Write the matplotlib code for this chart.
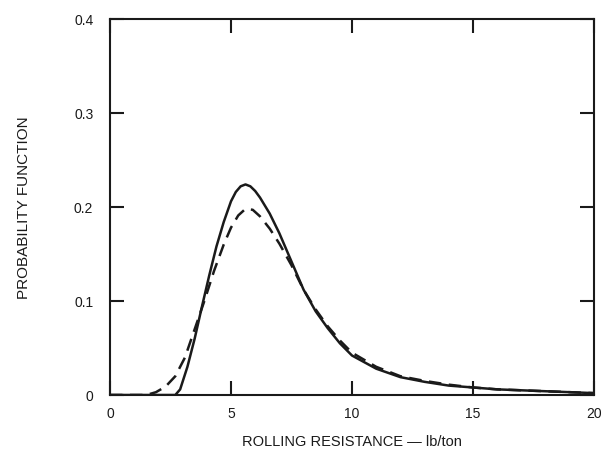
import matplotlib
matplotlib.use("Agg")
import matplotlib.pyplot as plt

plt.rcParams['font.family'] = ['Liberation Sans', 'DejaVu Sans']

# solid curve
x_solid = [0, 2.7, 2.9, 3.2, 3.5, 3.8, 4.1, 4.4, 4.7, 5.0, 5.2, 5.4, 5.6,
           5.8, 6.0, 6.2, 6.6, 7.0, 7.5, 8.0, 8.5, 9.0, 9.5, 10, 11, 12, 13,
           14, 15, 16, 17, 18, 19, 20]
y_solid = [0, 0, 0.006, 0.03, 0.06, 0.094, 0.127, 0.158, 0.184, 0.206, 0.216,
           0.222, 0.224, 0.222, 0.217, 0.210, 0.193, 0.172, 0.142, 0.112,
           0.089, 0.071, 0.055, 0.042, 0.028, 0.019, 0.014, 0.010, 0.008,
           0.006, 0.005, 0.004, 0.003, 0.002]

# dashed curve
x_dash = [0, 1.5, 1.9, 2.3, 2.7, 3.1, 3.5, 3.9, 4.3, 4.7, 5.0, 5.3, 5.6, 5.9,
          6.2, 6.6, 7.0, 7.5, 8.0, 8.5, 9.0, 9.5, 10, 11, 12, 13, 14, 15, 16,
          17, 18, 19, 20]
y_dash = [0, 0, 0.003, 0.009, 0.02, 0.040, 0.070, 0.100, 0.132, 0.160, 0.178,
          0.191, 0.198, 0.197, 0.190, 0.177, 0.161, 0.138, 0.112, 0.091, 0.073,
          0.058, 0.045, 0.030, 0.020, 0.015, 0.011, 0.008, 0.006, 0.005,
          0.004, 0.003, 0.002]

x_ticks = [0, 5, 10, 15, 20]
y_ticks = [0, 0.1, 0.2, 0.3, 0.4]
y_ticklabels = ['0', '0.1', '0.2', '0.3', '0.4']

ink = '#1a1a1a'

fig = plt.figure(figsize=(6.13, 4.52), dpi=100)
ax = fig.add_axes([0.1794, 0.1239, 0.7896, 0.8319])

ax.plot(x_solid, y_solid, color=ink, lw=1.8, solid_joinstyle='round')
ax.plot(x_dash, y_dash, color=ink, lw=1.8, dashes=(5, 3))

ax.set_xlim(0, 20)
ax.set_ylim(0, 0.4)
ax.set_xticks(x_ticks)
ax.set_yticks(y_ticks)
ax.set_yticklabels(y_ticklabels)

for s in ax.spines.values():
    s.set_linewidth(1.5)
    s.set_color(ink)

ax.tick_params(direction='in', length=10, width=1.5, color=ink,
               top=True, right=True, labelsize=10, labelcolor=ink)
ax.tick_params(axis='x', pad=8)
ax.tick_params(axis='y', pad=12)

ax.set_xlabel('ROLLING RESISTANCE — lb/ton', fontsize=10.5, color=ink, labelpad=10)
ax.set_ylabel('PROBABILITY FUNCTION', fontsize=11, color=ink, labelpad=31)

fig.savefig('out.png', dpi=100)
